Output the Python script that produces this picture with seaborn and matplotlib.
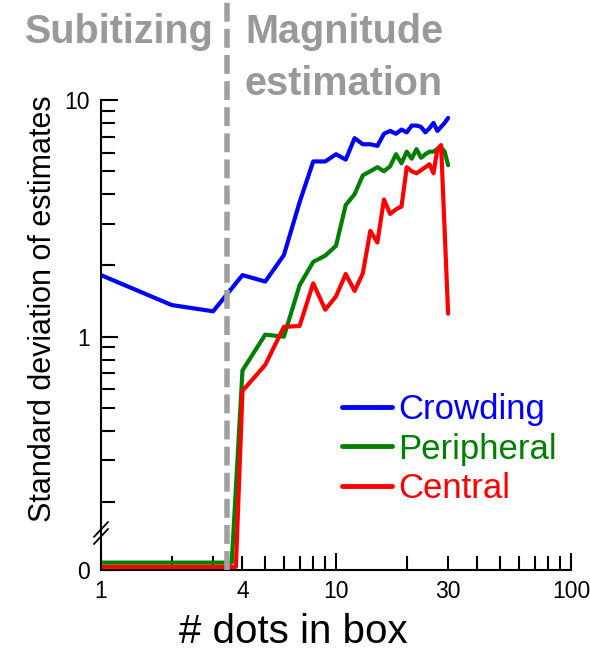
import pandas as pd
import seaborn as sns
import matplotlib.pyplot as plt
from matplotlib.ticker import FixedLocator, FuncFormatter, NullFormatter

sns.set_style('ticks')
plt.rcParams['font.family'] = ['Liberation Sans', 'DejaVu Sans']
plt.rcParams['text.color'] = 'black'

# data (0 = no variability, drawn on the broken bottom)
crowding_n = list(range(1, 31))
crowding_sd = [1.82, 1.36, 1.28, 1.82, 1.71, 2.21, 3.7, 5.5, 5.5, 5.9,
               5.6, 6.9, 6.5, 6.5, 6.4, 7.2, 7.4, 7.2, 7.5, 7.3,
               7.8, 7.8, 7.7, 7.3, 7.6, 8.0, 7.4, 7.7, 8.0, 8.4]

peripheral_n = [1, 2, 3, 3.6] + list(range(4, 31))
peripheral_sd = [0, 0, 0, 0, 0.72, 1.02, 1.0, 1.65, 2.07, 2.2, 2.42,
                 3.6, 4.0, 4.8, 5.0, 5.2, 5.0, 5.25, 5.9, 5.4, 6.05,
                 5.65, 6.2, 5.7, 5.9, 6.05, 6.05, 6.2, 6.3, 6.05, 5.3]

central_n = [1, 2, 3, 3.75] + list(range(4, 29)) + [30]
central_sd = [0, 0, 0, 0, 0.59, 0.76, 1.1, 1.11, 1.68, 1.3, 1.48,
              1.84, 1.56, 1.85, 2.8, 2.5, 3.8, 3.3, 3.45, 3.55, 5.2,
              5.0, 4.9, 5.05, 5.2, 5.35, 4.9, 6.2, 6.45, 1.25]

conditions = ['Crowding', 'Peripheral', 'Central']
colors = {'Crowding': '#0000FF', 'Peripheral': '#008000', 'Central': '#FF0000'}

# where "0" sits on the log axis (below the break)
y_bottom = 0.1033
zero_level = {'Crowding': 0.111, 'Peripheral': 0.111, 'Central': 0.1065}

df = pd.concat([
    pd.DataFrame({'n': crowding_n, 'sd': crowding_sd, 'condition': 'Crowding'}),
    pd.DataFrame({'n': peripheral_n, 'sd': peripheral_sd, 'condition': 'Peripheral'}),
    pd.DataFrame({'n': central_n, 'sd': central_sd, 'condition': 'Central'}),
], ignore_index=True)
df['sd_plot'] = df['sd'].where(df['sd'] > 0, df['condition'].map(zero_level))

fig = plt.figure(figsize=(5.9, 6.52), dpi=100)
ax = fig.add_axes([101 / 590, 82 / 652, 470 / 590, 470 / 652])
ax.set_xscale('log')
ax.set_yscale('log')

sns.lineplot(data=df, x='n', y='sd_plot', hue='condition', hue_order=conditions,
             palette=colors, linewidth=3, estimator=None, sort=False, ax=ax)

ax.set_xlim(1, 100)
ax.set_ylim(y_bottom, 10)

# x ticks: long at decades, labels also at 4 and 30
ax.xaxis.set_major_locator(FixedLocator([1, 10, 100]))
ax.xaxis.set_major_formatter(FuncFormatter(lambda v, p: f'{v:g}'))
ax.xaxis.set_minor_locator(FixedLocator([2, 3, 4, 5, 6, 7, 8, 9,
                                         20, 30, 40, 50, 60, 70, 80, 90]))
ax.xaxis.set_minor_formatter(FuncFormatter(lambda v, p: f'{v:g}' if v in (4, 30) else ''))

ax.yaxis.set_major_locator(FixedLocator([y_bottom, 1, 10]))
ax.yaxis.set_major_formatter(FuncFormatter(lambda v, p: '0' if v < 0.5 else f'{v:g}'))
ax.yaxis.set_minor_locator(FixedLocator([0.2, 0.3, 0.4, 0.5, 0.6, 0.7, 0.8, 0.9,
                                         2, 3, 4, 5, 6, 7, 8, 9]))
ax.yaxis.set_minor_formatter(NullFormatter())

ax.tick_params(which='both', direction='in', width=1.5, labelsize=16.5, colors='black')
ax.tick_params(which='major', length=12)
ax.tick_params(which='minor', length=10)
ax.tick_params(axis='x', which='both', pad=7)
ax.tick_params(axis='y', which='both', pad=8)
sns.despine(ax=ax)
for side in ['left', 'bottom']:
    ax.spines[side].set_linewidth(1.5)
    ax.spines[side].set_color('black')
ax.set_xlabel('')
ax.set_ylabel('')

# axis break marks on the y axis
for y0, y1 in [(0.1425, 0.1648), (0.133, 0.154)]:
    ax.plot([-0.015, 0.015], [y0, y1], color='black', lw=1.3,
            transform=ax.get_yaxis_transform(), clip_on=False, zorder=6)

# subitizing boundary
ax.axvline(3.43, ymin=0, ymax=570 / 470, color='#A0A0A0', lw=4,
           dashes=(3.4, 1.3), clip_on=False, zorder=5)

gray = '#999999'
fig.text(25 / 590, 1 - 43 / 652, 'Subitizing', ha='left', va='baseline',
         fontsize=28.5, fontweight='bold', color=gray)
fig.text(245 / 590, 1 - 43 / 652, 'Magnitude', ha='left', va='baseline',
         fontsize=28.5, fontweight='bold', color=gray)
fig.text(245 / 590, 1 - 95 / 652, 'estimation', ha='left', va='baseline',
         fontsize=28.5, fontweight='bold', color=gray)

fig.text(293 / 590, 1 - 643 / 652, '# dots in box', ha='center', va='baseline',
         fontsize=29, color='black')
fig.text(43 / 590, 1 - 308.5 / 652, 'Standard deviation of estimates', rotation=90,
         ha='center', va='center', fontsize=22, color='black')

# legend with coloured labels
old = ax.get_legend()
handles = old.legend_handles
labels = [t.get_text() for t in old.get_texts()]
for h in handles:
    h.set_linewidth(3.5)
ax.legend(handles, labels, loc='upper left', bbox_to_anchor=(341.7 / 590, 1 - 393 / 652),
          bbox_transform=fig.transFigure, frameon=False, fontsize=25,
          handlelength=1.44, handletextpad=0.18, labelspacing=0.19,
          borderpad=0, borderaxespad=0, labelcolor='linecolor')

fig.savefig('out.png', dpi=100)
